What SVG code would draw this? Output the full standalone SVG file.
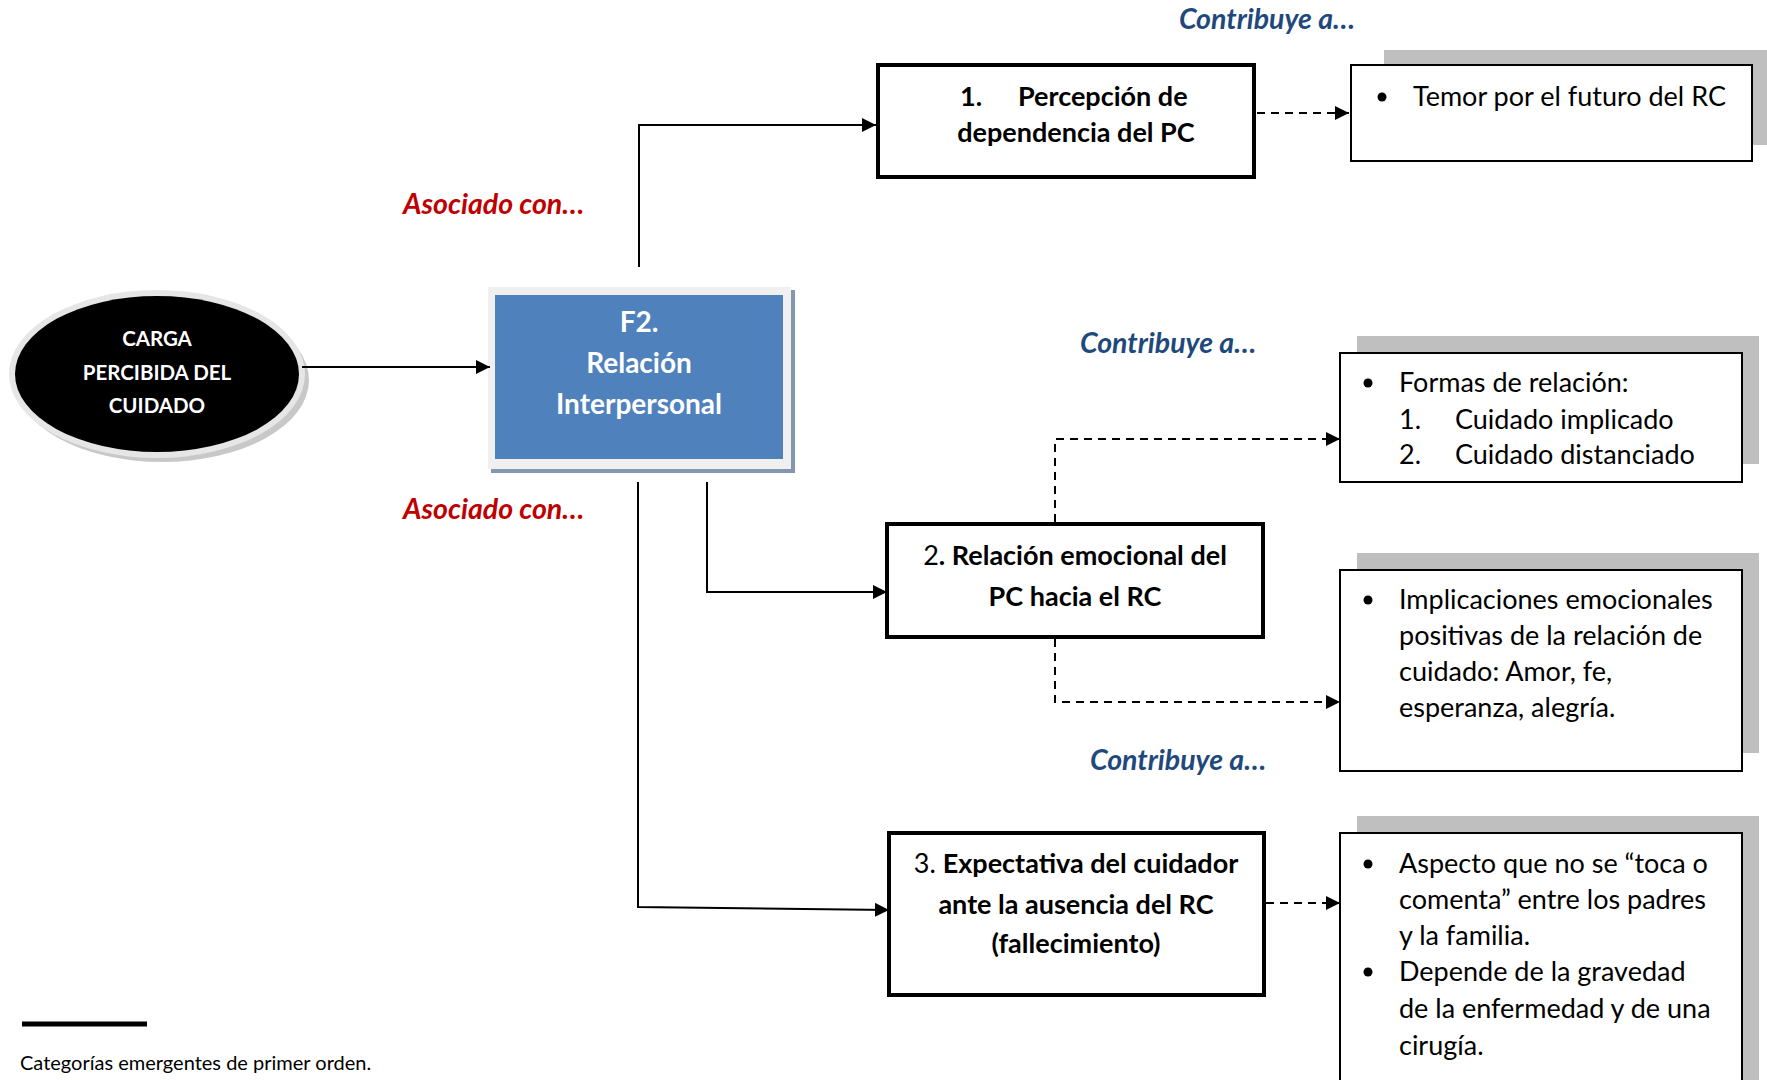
<svg xmlns="http://www.w3.org/2000/svg" width="1767" height="1080" viewBox="0 0 1767 1080">
<style>
text{font-family:Lato,"Open Sans","Liberation Sans",sans-serif;fill:#000}
.b{font-weight:bold}
.box{fill:#fff;stroke:#000;stroke-width:4}
.lst{fill:#fff;stroke:#000;stroke-width:2}
.sh{fill:#bfbfbf}
.t{font-size:27px}
.ct{font-size:27px;text-anchor:middle}
.red{fill:#c00000;font-weight:bold;font-style:italic;font-size:28.5px}
.blue{fill:#1f497d;font-weight:bold;font-style:italic;font-size:28.5px}
.w{fill:#fff;font-weight:bold;text-anchor:middle}
.ln{fill:none;stroke:#000;stroke-width:2}
.ds{fill:none;stroke:#000;stroke-width:2;stroke-dasharray:8 6}
</style>
<defs>
<marker id="a" viewBox="0 0 10 10" refX="10" refY="5" markerWidth="14" markerHeight="14" markerUnits="userSpaceOnUse" orient="auto">
<path d="M0,0 L10,5 L0,10 z" fill="#000"/>
</marker>
</defs>

<g id="carga">
<ellipse cx="162" cy="380" rx="147" ry="82" fill="#c8c8c8"/>
<ellipse cx="157" cy="374" rx="148" ry="84" fill="#e6e6e6"/>
<ellipse cx="157" cy="374" rx="142" ry="78" fill="#000"/>
<text class="w" x="157" y="346" font-size="20.5">CARGA</text>
<text class="w" x="157" y="380" font-size="20.5">PERCIBIDA DEL</text>
<text class="w" x="157" y="413" font-size="20.5">CUIDADO</text>
</g>

<g id="f2">
<rect x="491" y="290" width="304" height="183" fill="#8496b0"/>
<rect x="488" y="287" width="303" height="182" fill="#f0f0f0"/>
<rect x="495" y="295" width="288" height="164" fill="#4f81bd"/>
<text class="w" x="639" y="332" font-size="28">F2.</text>
<text class="w" x="639" y="373" font-size="28">Relación</text>
<text class="w" x="639" y="414" font-size="28">Interpersonal</text>
</g>

<g id="n1">
<rect class="box" x="878" y="65" width="376" height="112"/>
<text class="t b" x="960" y="106">1.</text>
<text class="t b" x="1018" y="106">Percepción de</text>
<text class="ct b" x="1076" y="142">dependencia del PC</text>
</g>

<g id="temor">
<rect class="sh" x="1384" y="50" width="383" height="95"/>
<rect class="lst" x="1351" y="65" width="401" height="96"/>
<circle cx="1382" cy="97" r="4.5"/>
<text class="t" x="1413" y="106">Temor por el futuro del RC</text>
</g>

<g id="n2">
<rect class="box" x="887" y="524" width="376" height="113"/>
<text class="ct" x="1075" y="565"><tspan>2</tspan><tspan class="b">. Relación emocional del</tspan></text>
<text class="ct b" x="1075" y="606">PC hacia el RC</text>
</g>

<g id="formas">
<rect class="sh" x="1357" y="336" width="402" height="128"/>
<rect class="lst" x="1340" y="353" width="402" height="129"/>
<circle cx="1368" cy="383" r="4.5"/>
<text class="t" x="1399" y="392">Formas de relación:</text>
<text class="t" x="1399" y="429">1.</text>
<text class="t" x="1455" y="429">Cuidado implicado</text>
<text class="t" x="1399" y="464">2.</text>
<text class="t" x="1455" y="464">Cuidado distanciado</text>
</g>

<g id="implicaciones">
<rect class="sh" x="1357" y="553" width="402" height="200"/>
<rect class="lst" x="1340" y="570" width="402" height="201"/>
<circle cx="1368" cy="600" r="4.5"/>
<text class="t" x="1399" y="609">Implicaciones emocionales</text>
<text class="t" x="1399" y="645">positivas de la relación de</text>
<text class="t" x="1399" y="681">cuidado: Amor, fe,</text>
<text class="t" x="1399" y="717">esperanza, alegría.</text>
</g>

<g id="n3">
<rect class="box" x="889" y="833" width="375" height="162"/>
<text class="ct" x="1076" y="873"><tspan>3. </tspan><tspan class="b">Expectativa del cuidador</tspan></text>
<text class="ct b" x="1076" y="914">ante la ausencia del RC</text>
<text class="ct b" x="1076" y="953">(fallecimiento)</text>
</g>

<g id="aspecto">
<rect class="sh" x="1357" y="816" width="402" height="280"/>
<rect class="lst" x="1340" y="833" width="402" height="260"/>
<circle cx="1368" cy="864" r="4.5"/>
<text class="t" x="1399" y="873">Aspecto que no se “toca o</text>
<text class="t" x="1399" y="909">comenta” entre los padres</text>
<text class="t" x="1399" y="945">y la familia.</text>
<circle cx="1368" cy="972" r="4.5"/>
<text class="t" x="1399" y="981">Depende de la gravedad</text>
<text class="t" x="1399" y="1018">de la enfermedad y de una</text>
<text class="t" x="1399" y="1055">cirugía.</text>
</g>

<g id="labels">
<text class="blue" x="1267" y="29" text-anchor="middle">Contribuye a…</text>
<text class="red" x="403" y="214">Asociado con…</text>
<text class="red" x="403" y="519">Asociado con…</text>
<text class="blue" x="1080" y="353">Contribuye a…</text>
<text class="blue" x="1090" y="770">Contribuye a…</text>
</g>

<g id="connectors">
<path class="ln" d="M302,367 H490" marker-end="url(#a)"/>
<path class="ln" d="M639,267 V125 H876" marker-end="url(#a)"/>
<path class="ln" d="M707,482 V592 H887" marker-end="url(#a)"/>
<path class="ln" d="M638,482 V907 L889,910" marker-end="url(#a)"/>
<path class="ds" d="M1257,113 H1349" marker-end="url(#a)"/>
<path class="ds" d="M1055,522 V439 H1340" marker-end="url(#a)"/>
<path class="ds" d="M1055,639 V702 H1340" marker-end="url(#a)"/>
<path class="ds" d="M1266,903 H1340" marker-end="url(#a)"/>
</g>

<g id="legend">
<line x1="22" y1="1024" x2="147" y2="1024" stroke="#000" stroke-width="5"/>
<text x="20" y="1070" font-size="20">Categorías emergentes de primer orden.</text>
</g>
</svg>
